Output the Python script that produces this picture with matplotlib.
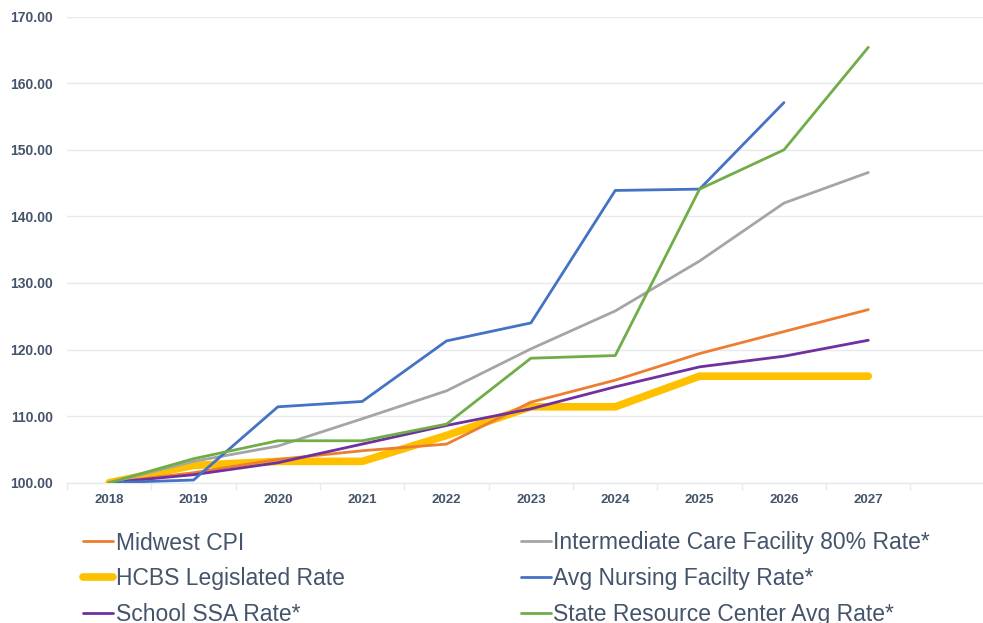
import matplotlib
matplotlib.use("Agg")
import matplotlib.pyplot as plt
from matplotlib.ticker import FixedLocator, FormatStrFormatter

plt.rcParams['font.family'] = ['Liberation Sans', 'DejaVu Sans']

years = ["2018", "2019", "2020", "2021", "2022", "2023", "2024", "2025", "2026", "2027"]

midwest_cpi = [100.0, 101.5, 103.5, 104.8, 105.8, 112.1, 115.4, 119.4, 122.7, 126.0]
hcbs_rate = [100.0, 102.6, 103.2, 103.2, 107.1, 111.4, 111.4, 116.0, 116.0, 116.0]
school_ssa = [100.0, 101.2, 103.0, 105.8, 108.6, 111.1, 114.4, 117.4, 119.0, 121.4]
icf_80 = [100.0, 103.2, 105.5, 109.6, 113.8, 120.1, 125.8, 133.3, 142.0, 146.6]
nursing = [100.0, 100.4, 111.4, 112.2, 121.3, 124.0, 143.9, 144.1, 157.1, None]
src_avg = [100.0, 103.6, 106.3, 106.3, 108.8, 118.7, 119.1, 144.1, 150.0, 165.4]

series = [
    ("Midwest CPI", midwest_cpi, "#ED7D31", 2.0),
    ("HCBS Legislated Rate", hcbs_rate, "#FFC000", 5.5),
    ("School SSA Rate*", school_ssa, "#7030A0", 2.0),
    ("Intermediate Care Facility 80% Rate*", icf_80, "#A5A5A5", 2.0),
    ("Avg Nursing Facilty Rate*", nursing, "#4472C4", 2.0),
    ("State Resource Center Avg Rate*", src_avg, "#70AD47", 2.0),
]

text_color = "#44546A"
grid_color = "#E6EAEE"

fig = plt.figure(figsize=(9.83, 6.23), dpi=100)
ax = fig.add_axes([67 / 983, 1 - 482.7 / 623, 1 - 67 / 983, (482.7 - 16.7) / 623])

x = list(range(len(years)))
draw_order = [1, 0, 2, 3, 4, 5]
handles = {}
for idx in draw_order:
    label, vals, color, lw = series[idx]
    xs = [xi for xi, v in zip(x, vals) if v is not None]
    ys = [v for v in vals if v is not None]
    ln, = ax.plot(xs, ys, color=color, linewidth=lw, label=label,
                  solid_capstyle="round", solid_joinstyle="round", zorder=3)
    handles[idx] = ln

ax.set_ylim(100, 170)
ax.set_xlim(-0.5, 10.36)
ax.yaxis.set_major_locator(FixedLocator([100, 110, 120, 130, 140, 150, 160, 170]))
ax.yaxis.set_major_formatter(FormatStrFormatter("%.2f"))
ax.set_xticks(x)
ax.set_xticklabels(years)
ax.set_xticks([i - 0.5 for i in range(11)], minor=True)

ax.grid(axis="y", color=grid_color, linewidth=1.0, zorder=0)
for s in ["top", "right", "left"]:
    ax.spines[s].set_visible(False)
ax.spines["bottom"].set_color(grid_color)
ax.spines["bottom"].set_linewidth(1.0)

ax.tick_params(axis="y", length=0, pad=10, labelsize=10, labelcolor=text_color)
ax.tick_params(axis="x", which="major", length=0, pad=8, labelsize=9.5, labelcolor=text_color)
ax.tick_params(axis="x", which="minor", length=5, color=grid_color, width=1.0)
for lbl in ax.get_xticklabels() + ax.get_yticklabels():
    lbl.set_fontweight("bold")

leg = fig.legend([handles[i] for i in range(6)], [s[0] for s in series],
                 ncol=2, loc="upper left", bbox_to_anchor=(83 / 983, 1 - 531.5 / 623),
                 frameon=False, fontsize=16.5, handlelength=1.3, handletextpad=0.12,
                 columnspacing=7.7, labelspacing=0.55, borderaxespad=0, borderpad=0)
for t in leg.get_texts():
    t.set_color(text_color)

fig.savefig("out.png", dpi=100)
